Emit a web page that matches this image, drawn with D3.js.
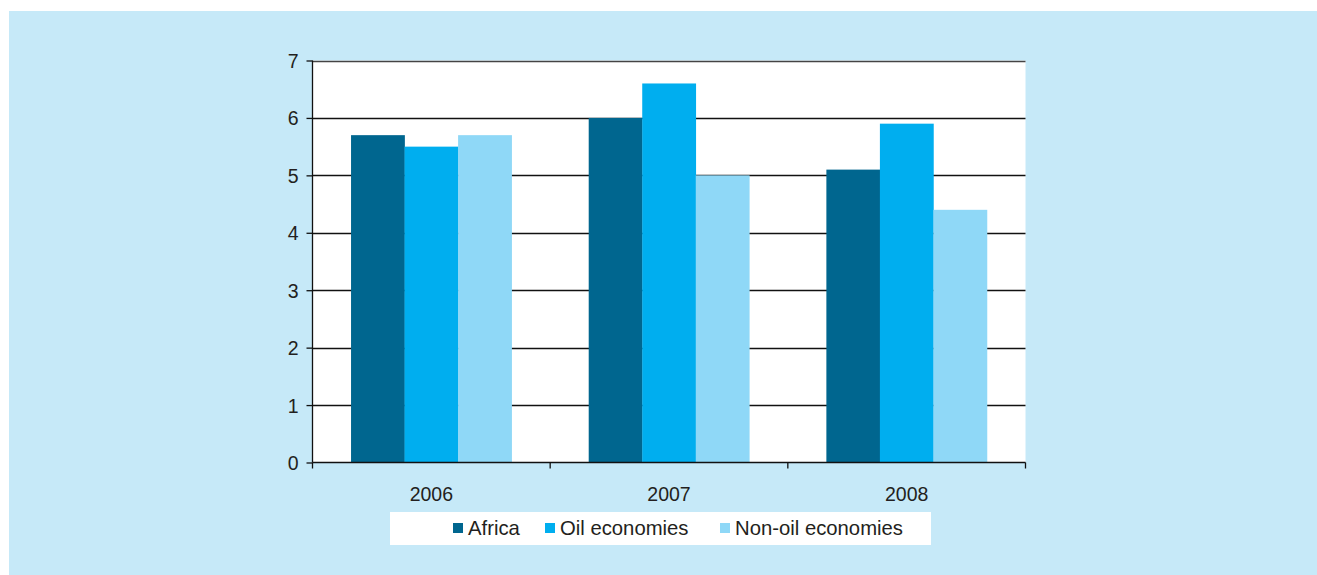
<!DOCTYPE html>
<html><head><meta charset="utf-8">
<script src="https://cdn.jsdelivr.net/npm/d3@7"></script>
<style>
html,body{margin:0;padding:0;background:#fff;}
svg text{font-family:"Liberation Sans",Arial,sans-serif;fill:#231f20;}
</style></head>
<body>
<svg id="chart" width="1317" height="575"></svg>
<script>
const years = ["2006", "2007", "2008"];
const seriesNames = ["Africa", "Oil economies", "Non-oil economies"];
const africa = [5.7, 6.0, 5.1];
const oil = [5.5, 6.6, 5.9];
const nonOil = [5.7, 5.0, 4.4];
const yTicks = [0, 1, 2, 3, 4, 5, 6, 7];
const colors = ["#00668f", "#00aeef", "#8fd8f7"];

const seriesValues = [africa, oil, nonOil];
const svg = d3.select("#chart");
svg.append("rect").attr("x", 9).attr("y", 11).attr("width", 1317 - 9).attr("height", 575 - 11).attr("fill", "#c6e9f8");

const pLeft = 312.5, pRight = 1025.5, pTop = 60.5, pBottom = 462.5;
const x = d3.scaleBand().domain(years).range([pLeft, pRight]).paddingInner(0).paddingOuter(0);
const xs = d3.scaleBand().domain(seriesNames).range([0, x.bandwidth()]).paddingOuter(0.72).paddingInner(0);
const y = d3.scaleLinear().domain([0, 7]).range([pBottom, pTop]);

svg.append("rect").attr("x", pLeft).attr("y", pTop).attr("width", pRight - pLeft).attr("height", pBottom - pTop).attr("fill", "#fff");

// gridlines
svg.append("g").selectAll("line").data(yTicks.filter(d => d > 0)).join("line")
  .attr("x1", pLeft).attr("x2", pRight).attr("y1", d => Math.round(y(d)) + 0.5).attr("y2", d => Math.round(y(d)) + 0.5)
  .attr("stroke", d => d === 7 ? "#444" : "#111").attr("stroke-width", 1.3);

// bars
const groups = svg.append("g").selectAll("g").data(years).join("g")
  .attr("transform", d => `translate(${x(d)},0)`);
groups.selectAll("rect").data((d, i) => seriesNames.map((s, j) => ({s, v: seriesValues[j][i], j})))
  .join("rect")
  .attr("x", d => xs(d.s)).attr("width", xs.bandwidth() + 0.3)
  .attr("y", d => y(d.v)).attr("height", d => pBottom - y(d.v))
  .attr("fill", d => colors[d.j]);

// y axis
const yAxis = d3.axisLeft(y).tickValues(yTicks).tickSize(6).tickPadding(8).tickFormat(d3.format("d"));
const gy = svg.append("g").attr("transform", `translate(${pLeft},0)`).call(yAxis);
gy.select(".domain").attr("stroke", "#111").attr("stroke-width", 1.3).attr("d", `M0,${pTop}V${pBottom}`);
gy.selectAll(".tick line").attr("stroke", "#111").attr("stroke-width", 1.3);
gy.selectAll(".tick text").style("font-size", "19.5px").attr("fill", "#231f20").attr("dy", "0.36em");

// x axis
const gx = svg.append("g").attr("transform", `translate(0,${pBottom})`);
gx.append("line").attr("x1", pLeft).attr("x2", pRight).attr("y1", 0).attr("y2", 0).attr("stroke", "#111").attr("stroke-width", 1.5);
const bounds = years.map(d => x(d)).concat([x(years[years.length - 1]) + x.bandwidth()]);
gx.selectAll("line.tk").data(bounds).join("line").attr("class", "tk")
  .attr("x1", d => d).attr("x2", d => d).attr("y1", 0).attr("y2", 6).attr("stroke", "#111").attr("stroke-width", 1.3);
gx.selectAll("text").data(years).join("text")
  .attr("x", d => x(d) + x.bandwidth() / 2).attr("y", 38)
  .attr("text-anchor", "middle").style("font-size", "19.5px").text(d => d);

// legend
const lg = svg.append("g");
lg.append("rect").attr("x", 390).attr("y", 512).attr("width", 541).attr("height", 33).attr("fill", "#fff");
const legendX = [453, 545, 720];
seriesNames.forEach((s, i) => {
  lg.append("rect").attr("x", legendX[i]).attr("y", 523).attr("width", 10).attr("height", 10).attr("fill", colors[i]);
  lg.append("text").attr("x", legendX[i] + 15).attr("y", 535).style("font-size", "20.3px").text(s);
});
</script>
</body></html>
